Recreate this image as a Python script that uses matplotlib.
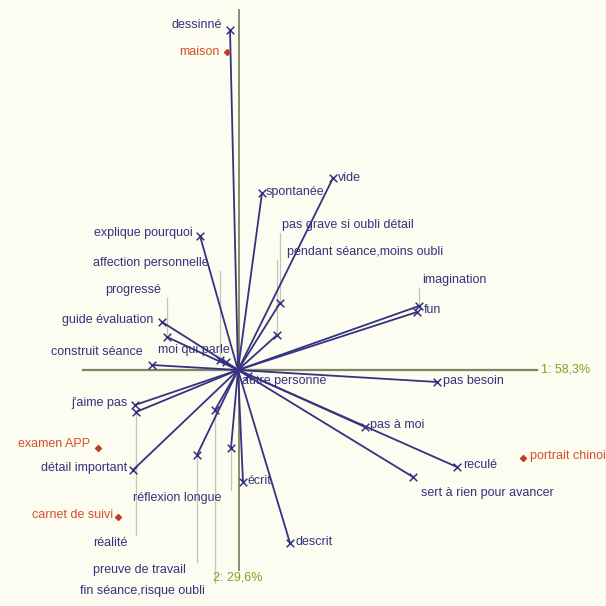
import matplotlib.pyplot as plt
import numpy as np

# Active terms: coordinates on factor 1 and factor 2
words = ['dessinné', 'spontanée', 'vide', 'pas grave si oubli détail',
         'pendant séance,moins oubli', 'imagination', 'fun', 'pas besoin',
         'pas à moi', 'reculé', 'sert à rien pour avancer', 'descrit', 'écrit',
         'autre personne', 'moi qui parle', 'construit séance', 'guide évaluation',
         'progressé', 'affection personnelle', 'explique pourquoi', "j'aime pas",
         'réalité', 'détail important', 'réflexion longue', 'preuve de travail',
         'fin séance,risque oubli']
f1 = [-0.04, 0.12, 0.475, 0.21, 0.195, 0.905, 0.895, 0.995, 0.635, 1.095, 0.875,
      0.26, 0.025, 0.05, -0.06, -0.43, -0.38, -0.355, -0.09, -0.19, -0.515,
      -0.51, -0.525, -0.035, -0.205, -0.115]
f2 = [1.70, 0.885, 0.96, 0.335, 0.175, 0.32, 0.29, -0.06, -0.285, -0.485, -0.535,
      -0.865, -0.56, -0.03, 0.04, 0.025, 0.24, 0.165, 0.05, 0.67, -0.175,
      -0.21, -0.5, -0.39, -0.425, -0.2]

# Supplementary modalities
sup_names = ['maison', 'examen APP', 'carnet de suivi', 'portrait chinois']
sup_f1 = [-0.055, -0.70, -0.60, 1.425]
sup_f2 = [1.59, -0.39, -0.735, -0.44]

axis_labels = ['1: 58,3%', '2: 29,6%']

# label placement: offset in pixels (dx, dy upward), alignment, leader line
SCALE = 200.0
word_layout = {
    'dessinné': (-8, 5, 'right', False),
    'spontanée': (4, 1, 'left', False),
    'vide': (5, 0, 'left', False),
    'pas grave si oubli détail': (2, 78, 'left', True),
    'pendant séance,moins oubli': (10, 83, 'left', True),
    'imagination': (3, 26, 'left', True),
    'fun': (7, 2, 'left', False),
    'pas besoin': (6, 1, 'left', False),
    'pas à moi': (5, 2, 'left', False),
    'reculé': (6, 2, 'left', False),
    'sert à rien pour avancer': (8, -16, 'left', False),
    'descrit': (6, 1, 'left', False),
    'écrit': (5, 1, 'left', False),
    'autre personne': (-6, -5, 'left', False),
    'moi qui parle': (-68, 12, 'left', False),
    'construit séance': (-9, 13, 'right', False),
    'guide évaluation': (-9, 2, 'right', False),
    'progressé': (-62, 47, 'left', True),
    'affection personnelle': (-127, 97, 'left', True),
    'explique pourquoi': (-7, 3, 'right', False),
    "j'aime pas": (-7, 2, 'right', False),
    'réalité': (-43, -131, 'left', True),
    'détail important': (-6, 2, 'right', False),
    'réflexion longue': (-98, -50, 'left', True),
    'preuve de travail': (-104, -115, 'left', True),
    'fin séance,risque oubli': (-135, -181, 'left', True),
}
sup_layout = {
    'maison': (-7, 0, 'right'),
    'examen APP': (-8, 4, 'right'),
    'carnet de suivi': (-5, 2, 'right'),
    'portrait chinois': (7, 2, 'left'),
}

navy = '#33337f'
red = '#d4502a'
axis_col = '#7f8462'
leader_col = '#c4c4bc'
bg = '#fcfcf0'

plt.rcParams['font.family'] = ['Liberation Sans', 'DejaVu Sans']

fig = plt.figure(figsize=(6.06, 6.06), dpi=100)
fig.patch.set_facecolor(bg)
ax = fig.add_axes([0, 0, 1, 1])
ax.set_facecolor(bg)
ax.set_xlim(-238 / SCALE, (606 - 238) / SCALE)
ax.set_ylim(-(606 - 370) / SCALE, 370 / SCALE)
ax.axis('off')

# factor axes
ax.plot([-155 / SCALE, 299 / SCALE], [0, 0], color=axis_col, lw=1.6, zorder=1)
ax.plot([0.005, 0.005], [-200 / SCALE, 360 / SCALE], color=axis_col, lw=1.3, zorder=1)
ax.text(303 / SCALE, 0, axis_labels[0], color='#8a9a28', fontsize=9, va='center', ha='left')
ax.text(-25 / SCALE, -207 / SCALE, axis_labels[1], color='#8a9a28', fontsize=9, va='center', ha='left')

# vectors from the origin
for x, y in zip(f1, f2):
    ax.plot([0, x], [0, y], color=navy, lw=1.3, zorder=2)
ax.scatter(f1, f2, marker='x', s=30, color=navy, linewidths=1.1, zorder=3)

for name, x, y in zip(words, f1, f2):
    dx, dy, ha, leader = word_layout[name]
    tx, ty = x + dx / SCALE, y + dy / SCALE
    if leader:
        ax.plot([x, x], [y, ty - np.sign(dy) * 8 / SCALE], color=leader_col, lw=0.9, zorder=1)
    ax.text(tx, ty, name, color=navy, fontsize=9, ha=ha, va='center', zorder=4)

ax.scatter(sup_f1, sup_f2, marker='D', s=9, color='#c03a2a', zorder=3)
for name, x, y in zip(sup_names, sup_f1, sup_f2):
    dx, dy, ha = sup_layout[name]
    ax.text(x + dx / SCALE, y + dy / SCALE, name, color=red, fontsize=9,
            ha=ha, va='center', zorder=4)

fig.savefig('out.png', dpi=100, facecolor=bg)
